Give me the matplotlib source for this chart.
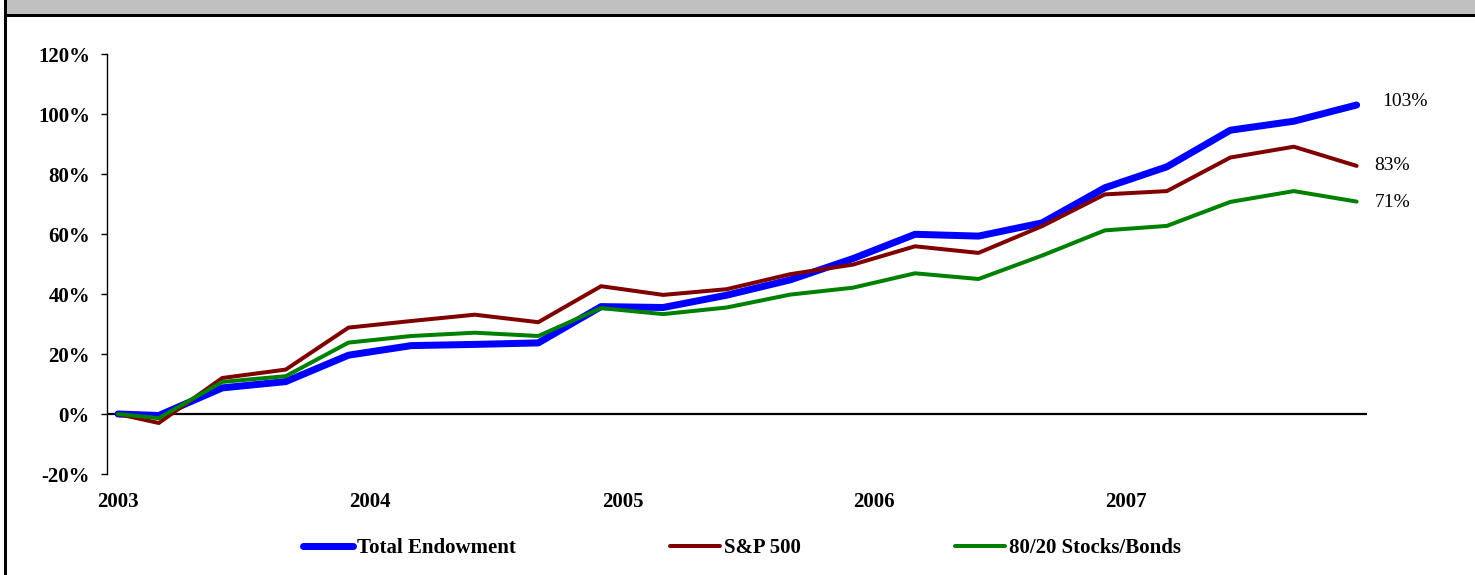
import pandas as pd
import matplotlib
matplotlib.use("Agg")
from matplotlib import pyplot as plt
from matplotlib.patches import Rectangle
import matplotlib.dates as mdates

plt.rcParams["font.family"] = ["Liberation Serif", "DejaVu Serif"]

# quarterly observation dates
dates = pd.to_datetime([
    "2003-01-01", "2003-03-01", "2003-06-01", "2003-09-01", "2003-12-01",
    "2004-03-01", "2004-06-01", "2004-09-01", "2004-12-01",
    "2005-03-01", "2005-06-01", "2005-09-01", "2005-12-01",
    "2006-03-01", "2006-06-01", "2006-09-01", "2006-12-01",
    "2007-03-01", "2007-06-01", "2007-09-01", "2007-12-01",
])

# cumulative returns, %
total_endowment = [0, -0.5, 8.7, 10.8, 19.6, 22.8, 23.2, 23.7, 35.8, 35.5, 39.6,
                   44.7, 51.8, 59.9, 59.3, 63.7, 75.4, 82.4, 94.6, 97.6, 103]
sp500 = [0, -3.0, 12.0, 14.8, 28.8, 31.0, 33.1, 30.6, 42.6, 39.7, 41.6,
         46.6, 49.8, 55.9, 53.7, 62.6, 73.2, 74.3, 85.5, 89.1, 82.7]
stocks_bonds = [0, -1.4, 10.7, 12.6, 23.8, 26.0, 27.1, 26.0, 35.3, 33.3, 35.5,
                39.8, 42.1, 46.9, 45.0, 52.8, 61.2, 62.7, 70.7, 74.3, 70.8]

series_names = ["Total Endowment", "S&P 500", "80/20 Stocks/Bonds"]
end_labels = ["103%", "83%", "71%"]
y_ticks = [-20, 0, 20, 40, 60, 80, 100, 120]
year_ticks = ["2003", "2004", "2005", "2006", "2007"]

W, H = 1475, 575
fig = plt.figure(figsize=(W / 100, H / 100), dpi=100)

# frame decoration: grey band on top, black rules
fig.patches.append(Rectangle((7 / W, 1 - 14 / H), 1, 14 / H, transform=fig.transFigure,
                             facecolor="#C0C0C0", edgecolor="none", zorder=0))
fig.patches.append(Rectangle((4 / W, 1 - 17 / H), 1, 3 / H, transform=fig.transFigure,
                             facecolor="black", edgecolor="none", zorder=1))
fig.patches.append(Rectangle((4 / W, 0), 3 / W, 1, transform=fig.transFigure,
                             facecolor="black", edgecolor="none", zorder=1))

ax = fig.add_axes([107 / W, 1 - 474 / H, 1260 / W, 420 / H])

ax.axhline(0, color="black", lw=1.6, zorder=1)

px = 0.72  # points per pixel
lines = []
l1, = ax.plot(dates, total_endowment, color="#0000FF", lw=7 * px,
              solid_capstyle="round", solid_joinstyle="round", zorder=2)
l2, = ax.plot(dates, sp500, color="#800000", lw=4 * px,
              solid_capstyle="round", solid_joinstyle="round", zorder=3)
l3, = ax.plot(dates, stocks_bonds, color="#008000", lw=4 * px,
              solid_capstyle="round", solid_joinstyle="round", zorder=4)

# end-value labels
offsets = [(26, 3), (18, 0), (18, -1)]
for vals, lab, (dx, dy) in zip([total_endowment, sp500, stocks_bonds], end_labels, offsets):
    ax.annotate(lab, xy=(dates[-1], vals[-1]), xytext=(dx * px, dy * px),
                textcoords="offset points", ha="left", va="center", fontsize=14)

ax.set_xlim(pd.Timestamp("2002-12-16"), pd.Timestamp("2007-12-16"))
ax.set_ylim(-20, 120)
ax.set_yticks(y_ticks)
ax.set_yticklabels([f"{v}%" for v in y_ticks], fontsize=15, fontweight="bold")
ax.set_xticks([pd.Timestamp(y + "-01-01") for y in year_ticks])
ax.set_xticklabels(year_ticks, fontsize=15, fontweight="bold")

ax.tick_params(axis="y", direction="out", length=6 * px, width=1, pad=11 * px)
ax.tick_params(axis="x", length=0, pad=18 * px)
for s in ["top", "right", "bottom"]:
    ax.spines[s].set_visible(False)
ax.spines["left"].set_linewidth(1)

fig.legend([l1, l2, l3], series_names, loc="center",
           bbox_to_anchor=(742 / W, 1 - 548 / H), ncol=3, frameon=False,
           prop={"size": 15, "weight": "bold"}, handlelength=2.4,
           handletextpad=0.2, columnspacing=7.4, borderpad=0)

fig.savefig("out.png", dpi=100)
